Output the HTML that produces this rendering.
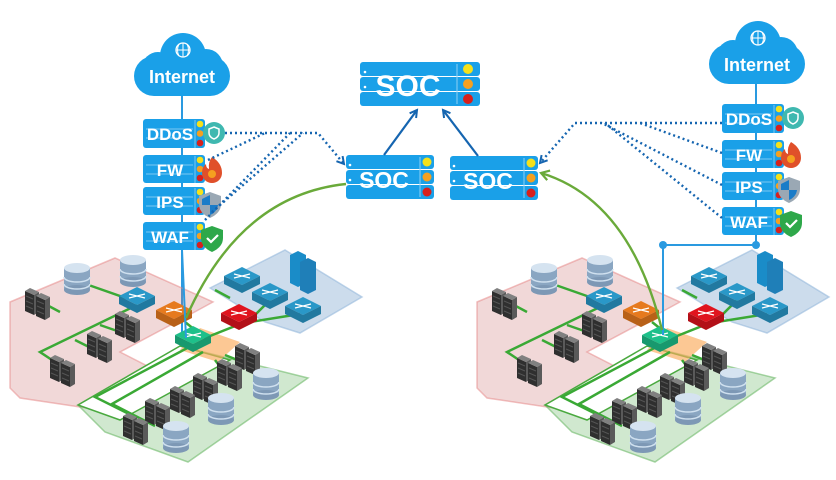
<!DOCTYPE html>
<html><head><meta charset="utf-8"><style>
html,body{margin:0;padding:0;background:#fff;}
svg{display:block;font-family:"Liberation Sans",sans-serif;}
</style></head><body>
<svg width="836" height="480" viewBox="0 0 836 480" xmlns="http://www.w3.org/2000/svg">
<defs>
<marker id="ab" markerWidth="10" markerHeight="10" refX="8" refY="5" orient="auto" markerUnits="userSpaceOnUse"><path d="M1,1 L8,5 L1,9" fill="none" stroke="#1565b0" stroke-width="2"/></marker>
<marker id="ag" markerWidth="12" markerHeight="12" refX="9" refY="6" orient="auto" markerUnits="userSpaceOnUse"><path d="M1,1 L9,6 L1,11" fill="none" stroke="#6aaa3a" stroke-width="2.2"/></marker>
<g id="rk"><path d="M0,0 l9,4 v20 l-9,-4z" fill="#2f2f2f"/><path d="M9,4 l5,-3 v20 l-5,3z" fill="#5a5a5a"/><path d="M0,0 l5,-3 l9,4 l-5,3z" fill="#808080"/><path d="M1,5 l7,3 M1,10 l7,3 M1,15 l7,3" stroke="#555" stroke-width="1"/></g>
<g id="srv"><use href="#rk" x="-13" y="-14"/><use href="#rk" x="-2" y="-9"/></g>
<g id="db"><rect x="-13" y="-12" width="26" height="22" fill="#8aa6c2"/><ellipse cx="0" cy="10" rx="13" ry="5" fill="#7d98b5"/><path d="M-13,-3 a13,5 0 0 0 26,0 M-13,4 a13,5 0 0 0 26,0" fill="none" stroke="#cfe0ef" stroke-width="1.5"/><ellipse cx="0" cy="-12" rx="13" ry="5" fill="#d5e3f0"/></g>
<g id="sw"><path d="M-18,0 L0,-9 L18,0 L0,9Z" fill="currentColor"/><path d="M-18,0 L0,9 V17 L-18,8Z" fill="currentColor"/><path d="M0,9 L18,0 V8 L0,17Z" fill="currentColor"/><path d="M-18,0 L0,9 V17 L-18,8Z M0,9 L18,0 V8 L0,17Z" fill="#000" opacity="0.2"/><path d="M-8,-2 L8,2 M-8,2 L8,-2" stroke="#fff" stroke-width="1.2" fill="none"/></g>
<g id="net">
<polygon points="10,302 115,258 213,302 180,320 120,352 165,375 100,410 20,398 10,388" fill="rgba(205,110,110,0.27)" stroke="rgba(230,130,130,0.5)" stroke-width="1.5"/>
<polygon points="210,288 285,250 362,297 300,333 265,322" fill="rgba(110,155,200,0.35)" stroke="rgba(150,185,220,0.6)" stroke-width="1.5"/>
<polygon points="78,405 180,346 308,378 188,462 105,432" fill="rgba(110,185,105,0.32)" stroke="rgba(110,185,105,0.6)" stroke-width="1.5"/>
<polygon points="78,405 180,346 230,360 120,420" fill="#fff" stroke="#4aa93f" stroke-width="1.5"/>
<polygon points="200,328 240,342 218,362 180,350" fill="rgba(250,170,90,0.65)"/>
<g stroke="#3aa935" stroke-width="2.5" fill="none">
<polyline points="137,305 40,352 55,362"/><polyline points="137,302 80,282"/><polyline points="100,325 123,333"/><polyline points="75,340 95,350"/><polyline points="45,304 60,312"/>
<polyline points="193,345 95,397 135,417"/><polyline points="203,352 112,404 155,426"/>
<polyline points="205,338 250,320 270,300"/><polyline points="250,322 300,314"/><polyline points="215,290 230,298"/><polyline points="205,338 185,322"/>
<polyline points="225,355 250,365 255,372"/><polyline points="215,360 230,380"/>
</g>
<use href="#db" x="77" y="280"/><use href="#db" x="133" y="272"/>
<use href="#srv" x="38" y="305"/><use href="#srv" x="128" y="328"/><use href="#srv" x="100" y="348"/><use href="#srv" x="63" y="372"/>
<use href="#srv" x="248" y="360"/><use href="#srv" x="230" y="376"/><use href="#srv" x="206" y="390"/><use href="#srv" x="183" y="403"/><use href="#srv" x="158" y="415"/><use href="#srv" x="136" y="430"/>
<use href="#db" x="266" y="385"/><use href="#db" x="221" y="410"/><use href="#db" x="176" y="438"/>
<use href="#sw" x="137" y="296" color="#2a98c8"/><use href="#sw" x="242" y="276" color="#2a98c8"/><use href="#sw" x="270" y="292" color="#2a98c8"/><use href="#sw" x="303" y="306" color="#2a98c8"/>
<use href="#sw" x="174" y="310" color="#e67a1e"/><use href="#sw" x="239" y="313" color="#e0141e"/><use href="#sw" x="193" y="335" color="#1ec08a"/>
<g fill="#1a8cc8"><path d="M290,255 l8,-4 l8,4 v28 l-8,4 l-8,-4z"/><path d="M300,262 l8,-4 l8,4 v28 l-8,4 l-8,-4z" fill="#1f7fb8"/></g>
</g>
<g id="stack">
<g fill="#1aa0e8">
<rect x="143" y="119" width="62" height="29" rx="3"/><rect x="143" y="155" width="62" height="28" rx="3"/><rect x="143" y="187" width="62" height="28" rx="3"/><rect x="143" y="222" width="62" height="28" rx="3"/>
</g>
<g stroke="#7cc8f2" stroke-width="1"><path d="M146,129 h47 M146,138 h47 M146,165 h47 M146,174 h47 M146,197 h47 M146,206 h47 M146,232 h47 M146,241 h47 M195,120 v28 M195,156 v27 M195,188 v27 M195,223 v27"/></g>
<g><circle cx="200" cy="124" r="3.3" fill="#f5e11a"/><circle cx="200" cy="133.5" r="3.3" fill="#f5a020"/><circle cx="200" cy="143" r="3.3" fill="#d8201c"/>
<circle cx="200" cy="160" r="3.3" fill="#f5e11a"/><circle cx="200" cy="169" r="3.3" fill="#f5a020"/><circle cx="200" cy="178" r="3.3" fill="#d8201c"/>
<circle cx="200" cy="192" r="3.3" fill="#f5e11a"/><circle cx="200" cy="201" r="3.3" fill="#f5a020"/><circle cx="200" cy="210" r="3.3" fill="#d8201c"/>
<circle cx="200" cy="227" r="3.3" fill="#f5e11a"/><circle cx="200" cy="236" r="3.3" fill="#f5a020"/><circle cx="200" cy="245" r="3.3" fill="#d8201c"/></g>
<g fill="#fff" font-weight="bold" font-size="17" text-anchor="middle"><text x="170" y="140">DDoS</text><text x="170" y="176">FW</text><text x="170" y="208">IPS</text><text x="170" y="243">WAF</text></g>
<circle cx="214" cy="133" r="11" fill="#3fb8b0"/><path d="M214,127 l5,2 v4 q0,4 -5,6 q-5,-2 -5,-6 v-4z" fill="none" stroke="#fff" stroke-width="1.5"/>
<path d="M212,157 q10,6 10,16 a10,10 0 0 1 -20,0 q0,-6 4,-9 q0,4 3,5 q-1,-7 3,-12z" fill="#e0502a"/><circle cx="212" cy="174" r="4" fill="#f5a020"/>
<path d="M210,192 l11,4 v8 q0,9 -11,14 q-11,-5 -11,-14 v-8z" fill="#9aa8b4"/><path d="M210,195 v10 h-8 v-6z M210,205 h8 q-1,7 -8,10z" fill="#1a7cc8"/>
<path d="M212,226 l11,4 v8 q0,9 -11,14 q-11,-5 -11,-14 v-8z" fill="#2ea84a"/><path d="M207,238 l4,4 l7,-7" fill="none" stroke="#fff" stroke-width="2.2"/>
</g>
<g id="cloud" fill="#1aa0e8"><rect x="134" y="56" width="96" height="40" rx="20"/><circle cx="183" cy="56" r="23"/><circle cx="158" cy="68" r="16"/><circle cx="206" cy="66" r="17"/></g>
</defs>

<line x1="182" y1="90" x2="182" y2="338" stroke="#2a9ae0" stroke-width="2"/>
<use href="#net"/>
<line x1="182" y1="250" x2="186" y2="338" stroke="#2a9ae0" stroke-width="2"/>
<use href="#cloud"/>
<circle cx="183" cy="50" r="7" fill="none" stroke="#fff" stroke-width="1.3"/><path d="M176,50 h14 M183,43 v14 M179,44 q-3,6 0,12 M187,44 q3,6 0,12" stroke="#fff" stroke-width="1" fill="none"/>
<text x="182" y="83" fill="#fff" font-size="18" font-weight="bold" text-anchor="middle">Internet</text>
<use href="#stack"/>

<use href="#net" x="467"/>
<line x1="756" y1="80" x2="756" y2="245" stroke="#2a9ae0" stroke-width="2"/>
<polyline points="756,245 663,245 663,335" fill="none" stroke="#2a9ae0" stroke-width="2"/>
<circle cx="663" cy="245" r="4" fill="#2a9ae0"/><circle cx="756" cy="245" r="4" fill="#2a9ae0"/>
<use href="#cloud" x="575" y="-12"/>
<circle cx="758" cy="38" r="7" fill="none" stroke="#fff" stroke-width="1.3"/><path d="M751,38 h14 M758,31 v14 M754,32 q-3,6 0,12 M762,32 q3,6 0,12" stroke="#fff" stroke-width="1" fill="none"/>
<text x="757" y="71" fill="#fff" font-size="18" font-weight="bold" text-anchor="middle">Internet</text>
<use href="#stack" x="579" y="-15"/>

<g fill="#1aa0e8">
<rect x="360" y="62" width="120" height="14" rx="3"/><rect x="360" y="77" width="120" height="14" rx="3"/><rect x="360" y="92" width="120" height="14" rx="3"/>
<rect x="346" y="155" width="88" height="14" rx="3"/><rect x="346" y="170" width="88" height="14" rx="3"/><rect x="346" y="185" width="88" height="14" rx="3"/>
<rect x="450" y="156" width="88" height="14" rx="3"/><rect x="450" y="171" width="88" height="14" rx="3"/><rect x="450" y="186" width="88" height="14" rx="3"/>
</g>
<g stroke="#8fd0f5" stroke-width="1"><path d="M457,64 v40 M420,157 v40 M524,158 v40"/></g>
<g fill="#fff"><circle cx="365" cy="72" r="1.3"/><circle cx="365" cy="87" r="1.3"/><circle cx="350" cy="165" r="1.3"/><circle cx="350" cy="180" r="1.3"/><circle cx="454" cy="166" r="1.3"/><circle cx="454" cy="181" r="1.3"/></g>
<circle cx="468" cy="69" r="5" fill="#f5e11a"/><circle cx="468" cy="84" r="5" fill="#f5a020"/><circle cx="468" cy="99" r="5" fill="#d8201c"/>
<circle cx="427" cy="162" r="4.5" fill="#f5e11a"/><circle cx="427" cy="177" r="4.5" fill="#f5a020"/><circle cx="427" cy="192" r="4.5" fill="#d8201c"/>
<circle cx="531" cy="163" r="4.5" fill="#f5e11a"/><circle cx="531" cy="178" r="4.5" fill="#f5a020"/><circle cx="531" cy="193" r="4.5" fill="#d8201c"/>
<g fill="#fff" font-weight="bold" text-anchor="middle">
<text x="408" y="96" font-size="30">SOC</text>
<text x="384" y="188" font-size="23">SOC</text>
<text x="488" y="189" font-size="23">SOC</text>
</g>

<line x1="384" y1="155" x2="417" y2="110" stroke="#1565b0" stroke-width="2.2" marker-end="url(#ab)"/>
<line x1="478" y1="156" x2="443" y2="110" stroke="#1565b0" stroke-width="2.2" marker-end="url(#ab)"/>
<g fill="none" stroke="#1565b0" stroke-width="2.4" stroke-dasharray="2,3">
<polyline points="225,133 318,133 344,164" marker-end="url(#ab)"/>
<line x1="208" y1="160" x2="265" y2="133"/>
<line x1="212" y1="212" x2="303" y2="133"/>
<line x1="205" y1="220" x2="290" y2="133"/>
<polyline points="722,123 575,123 540,163" marker-end="url(#ab)"/>
<line x1="722" y1="153" x2="640" y2="123"/>
<line x1="722" y1="185" x2="602" y2="123"/>
<line x1="722" y1="218" x2="605" y2="123"/>
</g>
<path d="M346,184 Q240,195 186,318" fill="none" stroke="#6aaa3a" stroke-width="2.4"/>
<path d="M662,330 Q630,200 541,173" fill="none" stroke="#6aaa3a" stroke-width="2.4" marker-end="url(#ag)"/>
</svg>
</body></html>
